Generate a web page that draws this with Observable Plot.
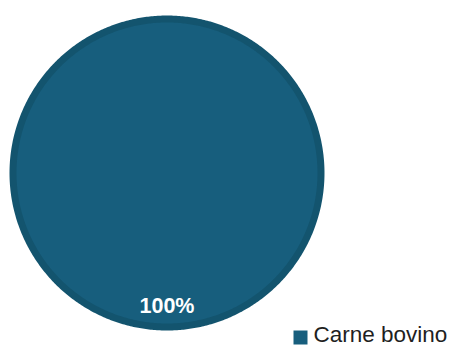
<!DOCTYPE html>
<html>
<head>
<meta charset="utf-8">
<script src="https://cdn.jsdelivr.net/npm/d3@7"></script>
<script src="https://cdn.jsdelivr.net/npm/@observablehq/plot@0.6"></script>
<style>
  html, body { margin: 0; padding: 0; background: #fff; }
  #chart svg { display: block; }
</style>
</head>
<body>
<div id="chart"></div>
<script>
const categories = ["Carne bovino"];
const values = [100];
const colors = ["#175e7d"];
const ringColor = "#13546e";

const data = categories.map((c, i) => ({category: c, value: values[i]}));
const total = d3.sum(values);
const arcs = d3.pie().value(d => d.value).sort(null)(data);

// polygon outline of each slice, from the pie angles
const pts = [];
arcs.forEach(a => {
  const full = a.endAngle - a.startAngle >= 2 * Math.PI - 1e-9;
  const n = Math.max(2, Math.ceil((a.endAngle - a.startAngle) / 0.01));
  if (!full) pts.push({category: a.data.category, x: 0, y: 0});
  for (let k = 0; k <= n; k++) {
    const t = a.startAngle + (a.endAngle - a.startAngle) * k / n;
    pts.push({category: a.data.category, x: Math.sin(t), y: Math.cos(t)});
  }
});

const labels = arcs.map(a => {
  const m = (a.startAngle + a.endAngle) / 2;
  const r = 0.865;
  return {
    x: r * Math.sin(m), y: r * Math.cos(m),
    text: Math.round(a.data.value / total * 100) + "%"
  };
});

const chart = Plot.plot({
  width: 451,
  height: 345,
  margin: 0,
  style: {fontFamily: "'Liberation Sans', Arial, sans-serif", background: "#fff"},
  x: {domain: [-1, 1], range: [12.5, 320.5], axis: null},
  y: {domain: [-1, 1], range: [326.5, 18.5], axis: null},
  color: {domain: categories, range: colors},
  marks: [
    Plot.line(pts, {x: "x", y: "y", z: "category", fill: "category", stroke: ringColor, strokeWidth: 7, curve: "linear-closed"}),
    Plot.text(labels, {x: "x", y: "y", text: "text", fill: "#ffffff", fontSize: 21.5, fontWeight: "bold"}),
    Plot.dot(categories, {frameAnchor: "bottom-right", dx: -151, dy: -8, symbol: "square", r: 7.9, fill: d => d}),
    Plot.text(categories, {frameAnchor: "bottom-right", dx: -138, dy: -4, text: d => d, textAnchor: "start", fill: "#1f1f1f", fontSize: 22.5})
  ]
});
document.getElementById("chart").append(chart);
</script>
</body>
</html>
